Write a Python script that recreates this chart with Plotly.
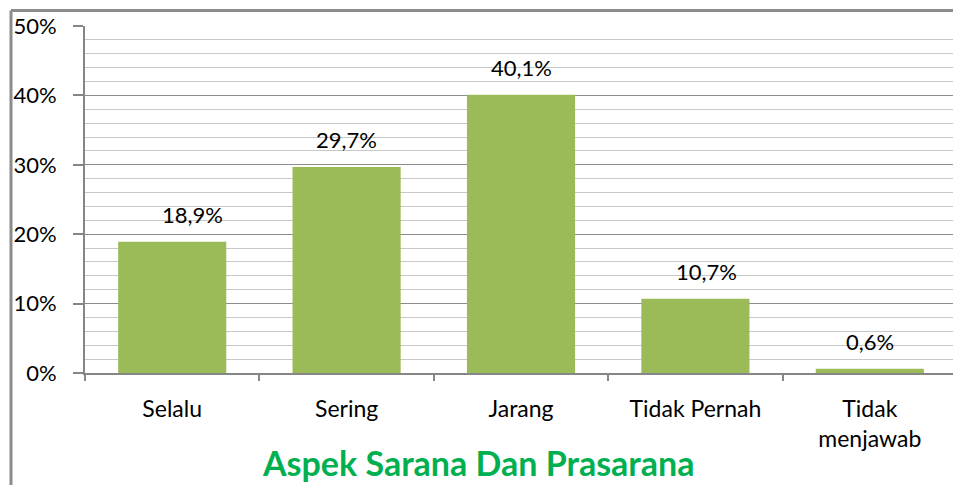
import plotly.graph_objects as go

categories = ["Selalu", "Sering", "Jarang", "Tidak Pernah", "Tidak<br>menjawab"]
values = [18.9, 29.7, 40.1, 10.7, 0.6]
value_labels = ["18,9%", "29,7%", "40,1%", "10,7%", "0,6%"]
label_xshift = [20, 0, 0, 11, 0]
y_ticks = [0, 10, 20, 30, 40, 50]
y_tick_labels = ["0%", "10%", "20%", "30%", "40%", "50%"]
title_text = "Aspek Sarana Dan Prasarana"

FONT = "Lato"
W, H = 953, 485
L, R, T, B = 85, 0, 26, 112
pw, ph = W - L - R, H - T - B

fig = go.Figure()
fig.add_trace(go.Bar(
    x=categories, y=values,
    marker=dict(color="#9BBB59", line=dict(width=0)),
    width=0.62, hoverinfo="skip",
))

for c, v, t, dx in zip(categories, values, value_labels, label_xshift):
    fig.add_annotation(x=c, y=v, text=t, showarrow=False, yshift=27, xshift=dx,
                       font=dict(family=FONT, size=22, color="#000000"))

fig.add_annotation(xref="paper", yref="paper", x=(478 - L) / pw, y=(H - B - 462) / ph,
                   text="<b>" + title_text + "</b>", showarrow=False,
                   xanchor="center", yanchor="middle",
                   font=dict(family=FONT, size=34, color="#00B050"))

# outer frame (left and top edges)
bx = (11 - L) / pw
by = (H - B - 10.5) / ph
fig.add_shape(type="line", xref="paper", yref="paper", x0=bx, x1=bx, y0=-B / ph - 0.05, y1=by,
              line=dict(color="#8C8C8C", width=3))
fig.add_shape(type="line", xref="paper", yref="paper", x0=bx, x1=1.05, y0=by, y1=by,
              line=dict(color="#8C8C8C", width=3))

fig.update_layout(
    width=W, height=H,
    margin=dict(l=L, r=R, t=T, b=B),
    paper_bgcolor="white", plot_bgcolor="white",
    showlegend=False,
    font=dict(family=FONT, size=22, color="#000000"),
    xaxis=dict(
        type="category", range=[-0.5, 4.477],
        showline=True, linecolor="#868686", linewidth=2,
        ticks="outside", ticklen=6, tickcolor="#868686", tickwidth=2,
        tickson="boundaries", showgrid=False,
        ticklabelstandoff=14,
        tickfont=dict(family=FONT, size=23, color="#000000"),
    ),
    yaxis=dict(
        range=[0, 50], tickvals=y_ticks, ticktext=y_tick_labels,
        showline=True, linecolor="#868686", linewidth=2,
        ticks="outside", ticklen=10, tickcolor="#868686", tickwidth=2,
        showgrid=True, gridcolor="#8C8C8C", gridwidth=1,
        zeroline=False,
        ticklabelstandoff=12,
        minor=dict(dtick=2, showgrid=True, gridcolor="#C8C8C8", gridwidth=1, ticks=""),
        tickfont=dict(family=FONT, size=22, color="#000000"),
    ),
)

fig.write_html("out.html")
